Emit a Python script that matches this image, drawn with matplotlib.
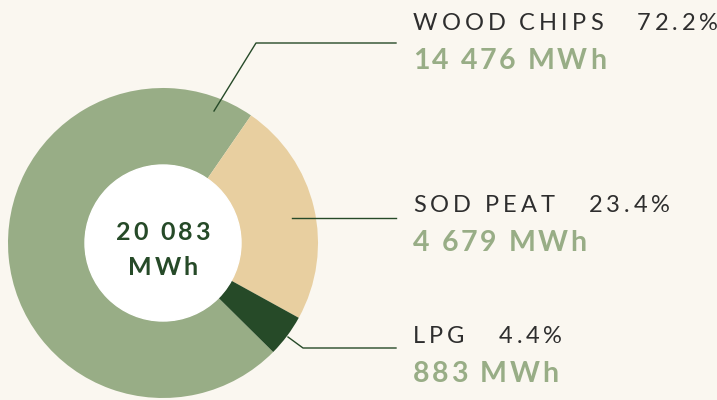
import numpy as np
import matplotlib
matplotlib.use('Agg')
import matplotlib.pyplot as plt
from matplotlib.lines import Line2D

#-------------------------------------------------------
names = ['WOOD CHIPS', 'SOD PEAT', 'LPG']
shares = [72.2, 23.4, 4.4]
mwh = [14476, 4679, 883]
total_label = ['20 083', 'MWh']
#-------------------------------------------------------

W, H = 717, 400
bg = '#faf7f0'
colors = ['#98ad86', '#e8cfa0', '#264a28']
dark = '#2e2e2e'
green_txt = '#98ad86'
line_col = '#264a28'

fig = plt.figure(figsize=(W / 100, H / 100), dpi=100, facecolor=bg)

# donut, centre (163, 243) px, radius 155 px
cx, cy, R = 163, 243, 155
ax = fig.add_axes([(cx - R) / W, (H - cy - R) / H, 2 * R / W, 2 * R / H])
ax.set_xlim(-1, 1)
ax.set_ylim(-1, 1)
ax.set_aspect('equal')
ax.axis('off')

hole = 78 / R
# start wood chips at 134.7 deg clockwise from 12 o'clock
ax.pie(shares, colors=colors, startangle=90 - 134.7, counterclock=False, radius=1,
       wedgeprops=dict(width=1 - hole, linewidth=0), frame=False)
ax.add_patch(plt.Circle((0, 0), hole, color='white', zorder=3))
ax.set_xlim(-1, 1)
ax.set_ylim(-1, 1)

renderer = fig.canvas.get_renderer()


def text_width(s, **kw):
    t = fig.text(0, 0, '|' + s + '|', **kw)
    w1 = t.get_window_extent(renderer).width
    t.remove()
    t = fig.text(0, 0, '||', **kw)
    w0 = t.get_window_extent(renderer).width
    t.remove()
    return w1 - w0


def tracked(x, y, s, sp, **kw):
    # draw text with letter spacing, x/y in pixels from top-left, y = baseline
    for i, ch in enumerate(s):
        xi = x + text_width(s[:i], **kw) + i * sp
        fig.text(xi / W, 1 - y / H, ch, va='baseline', ha='left', **kw)
    return x + text_width(s, **kw) + (len(s) - 1) * sp


label_kw = dict(fontsize=17, family='Lato', weight='normal', color=dark)
num_kw = dict(fontsize=20.5, family='Lato', weight='bold', color=green_txt)

label_y = [30, 212, 343]
tx = 413
for name, share, val, ly in zip(names, shares, mwh, label_y):
    end = tracked(tx, ly, name, 4.0, **label_kw)
    tracked(end + 34, ly, '%.1f%%' % share, 4.0, **label_kw)
    tracked(tx, ly + 39, '{:,}'.format(val).replace(',', ' ') + ' MWh', 2.6, **num_kw)

# centre total
ckw = dict(fontsize=18, family='Lato', weight='bold', color='#264a28')
for s, by in zip(total_label, [240, 275]):
    w = text_width(s, **ckw) + (len(s) - 1) * 3.0
    tracked(cx - w / 2, by, s, 3.0, **ckw)

# leader lines (pixel coords)
leaders = [
    [(214, 111), (256, 43), (396, 43)],
    [(292, 218), (396, 218)],
    [(288, 337), (303, 348), (396, 348)],
]
for pts in leaders:
    xs = [p[0] / W for p in pts]
    ys = [1 - p[1] / H for p in pts]
    fig.add_artist(Line2D(xs, ys, color=line_col, lw=1.0, zorder=5))

fig.savefig('out.png', dpi=100, facecolor=bg)
